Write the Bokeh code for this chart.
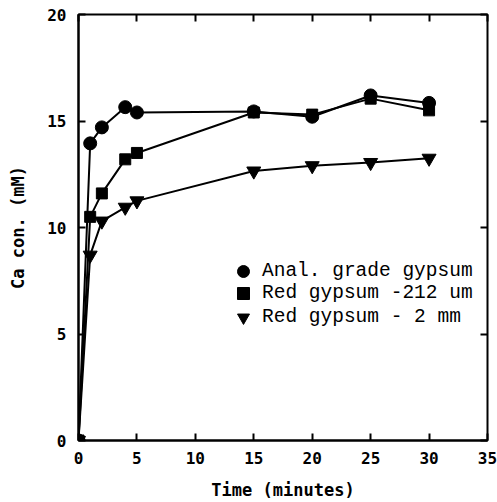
from bokeh.plotting import figure
from bokeh.models import Range1d, LinearAxis, FixedTicker, Legend, LegendItem
from bokeh.embed import file_html
from bokeh.resources import INLINE

# Dissolution of Ca from gypsum samples over time
time_min = [0, 1, 2, 4, 5, 15, 20, 25, 30]
anal_grade = [0, 13.95, 14.7, 15.65, 15.4, 15.45, 15.2, 16.2, 15.85]
red_212um = [0, 10.5, 11.6, 13.2, 13.5, 15.4, 15.3, 16.05, 15.5]
red_2mm = [0, 8.7, 10.3, 10.95, 11.25, 12.65, 12.9, 13.05, 13.25]

x_ticks = [0, 5, 10, 15, 20, 25, 30, 35]
y_ticks = [0, 5, 10, 15, 20]

LABEL_FONT = "DejaVu Sans Mono"

p = figure(
    frame_width=409, frame_height=426,
    x_range=Range1d(0, 35), y_range=Range1d(0, 20),
    output_backend="svg", toolbar_location=None,
    min_border_left=78, min_border_right=10,
    min_border_top=14, min_border_bottom=62,
)
p.xgrid.visible = False
p.ygrid.visible = False
p.outline_line_color = "black"
p.outline_line_width = 2

p.xaxis.axis_label = "Time (minutes)"
p.yaxis.axis_label = "Ca con. (mM)"
for ax in (p.xaxis[0], p.yaxis[0]):
    ax.axis_line_width = 2
    ax.major_tick_in = 7
    ax.major_tick_out = 0
    ax.major_tick_line_width = 2
    ax.minor_tick_line_color = None
    ax.major_label_text_font = LABEL_FONT
    ax.major_label_text_font_style = "bold"
    ax.major_label_text_font_size = "16px"
    ax.major_label_text_color = "black"
    ax.axis_label_text_font = LABEL_FONT
    ax.axis_label_text_font_style = "bold"
    ax.axis_label_text_font_size = "17px"
    ax.axis_label_text_color = "black"
p.xaxis.ticker = FixedTicker(ticks=x_ticks)
p.yaxis.ticker = FixedTicker(ticks=y_ticks)
p.xaxis.major_label_standoff = 11
p.yaxis.major_label_standoff = 12
p.xaxis.axis_label_standoff = 13
p.yaxis.axis_label_standoff = 16

# Mirrored inward ticks on the top and right edges
top = LinearAxis(ticker=FixedTicker(ticks=x_ticks))
right = LinearAxis(ticker=FixedTicker(ticks=y_ticks))
for ax in (top, right):
    ax.major_tick_in = 7
    ax.major_tick_out = 0
    ax.major_tick_line_width = 2
    ax.minor_tick_line_color = None
    ax.axis_line_color = None
    ax.major_label_text_color = None
    ax.major_label_standoff = 0
p.add_layout(top, "above")
p.add_layout(right, "right")

series = [
    (red_2mm, "inverted_triangle", 14, "Red gypsum - 2 mm"),
    (red_212um, "square", 11, "Red gypsum -212 um"),
    (anal_grade, "circle", 13, "Anal. grade gypsum"),
]
items = {}
for ys, marker, size, label in series:
    p.line(time_min, ys, line_color="black", line_width=2)
    r = p.scatter(time_min, ys, marker=marker, size=size,
                  fill_color="black", line_color="black")
    items[label] = r

# One single-entry legend per row, so the marker boxes can overlap
# vertically while keeping the legend symbols large.
legend_rows = [
    ("Anal. grade gypsum", 154),
    ("Red gypsum -212 um", 132),
    ("Red gypsum - 2 mm", 108),
]
for lab, y_off in legend_rows:
    leg = Legend(
        items=[LegendItem(label=lab, renderers=[items[lab]])],
        location=(150, y_off),
        label_text_font="Liberation Mono",
        label_text_font_size="19.5px",
        label_text_color="black",
        glyph_width=30, glyph_height=30, label_height=30,
        label_standoff=4, spacing=0, padding=0, margin=0,
        border_line_color=None, background_fill_alpha=0,
    )
    p.add_layout(leg)

open("out.html", "w").write(file_html(p, INLINE))
